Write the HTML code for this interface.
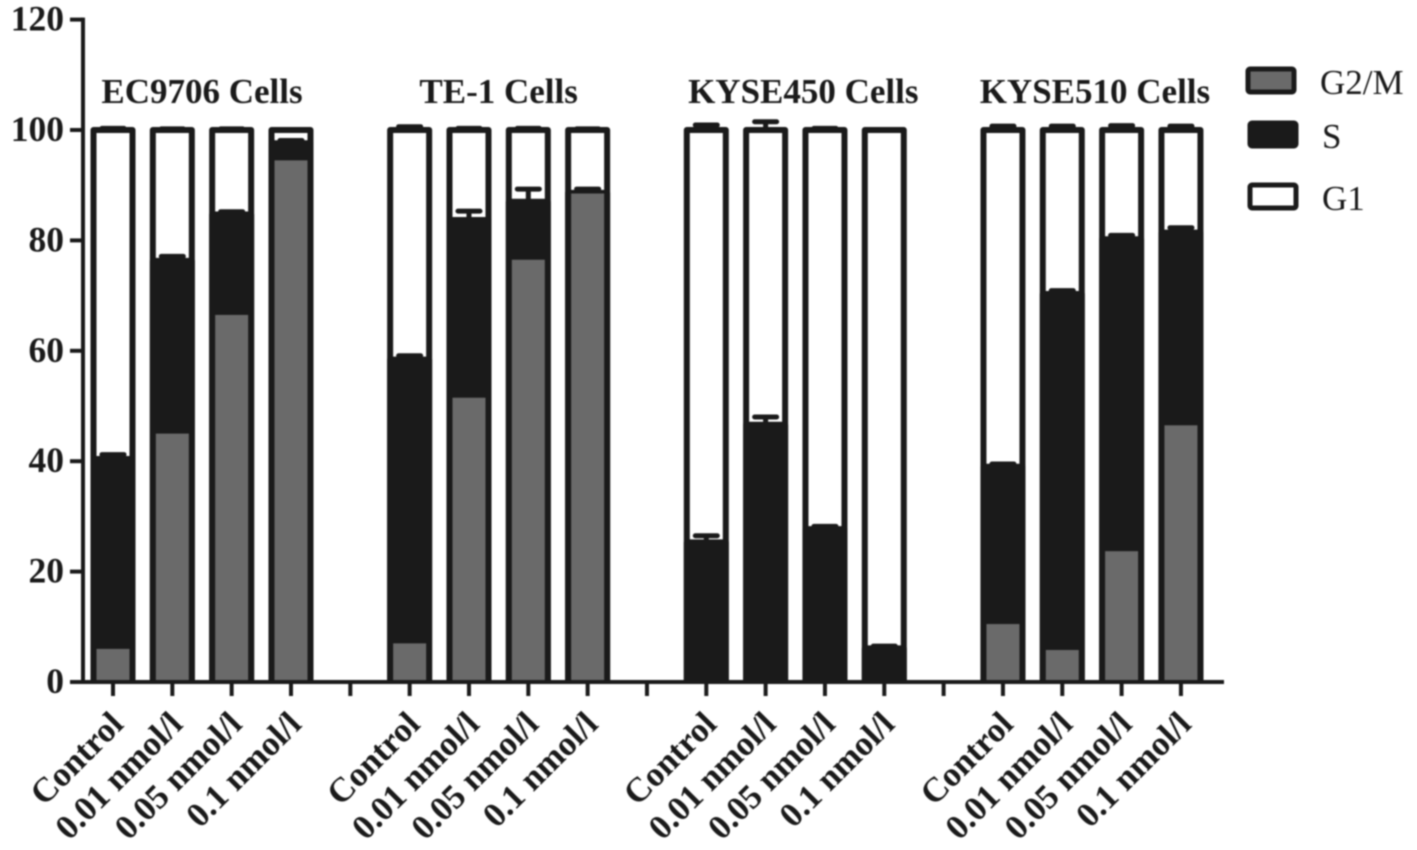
<!DOCTYPE html>
<html lang="en">
<head>
<meta charset="utf-8">
<title>Cell cycle distribution</title>
<style>
html,body{margin:0;padding:0;background:#fff;width:1417px;height:850px;overflow:hidden}
svg{display:block;filter:blur(0.7px)}
text{font-family:"Liberation Serif",serif;fill:#1a1a1a}
</style>
</head>
<body>
<svg id="chart" width="1417" height="850" viewBox="0 0 1417 850" xmlns="http://www.w3.org/2000/svg"></svg>
<script>
const panels = ["EC9706 Cells", "TE-1 Cells", "KYSE450 Cells", "KYSE510 Cells"];
const doses = ["Control", "0.01 nmol/l", "0.05 nmol/l", "0.1 nmol/l"];
const yTicks = [0, 20, 40, 60, 80, 100, 120];
const g2m = [6, 45, 66.5, 94.5, 7, 51.5, 76.5, 88.5, 0, 0, 0, 0, 10.5, 5.8, 23.7, 46.5];
const sTop = [40.4, 76.3, 84.7, 97.6, 58.4, 83.7, 87, 88.6, 25.3, 46.6, 27.7, 6.1, 39, 70.3, 80.2, 81.4];
const sErr = [0.8, 0.8, 0.5, 0.5, 0.7, 1.6, 2.3, 0.7, 1.2, 1.4, 0.5, 0.4, 0.5, 0.6, 0.7, 0.9];
const g1Top = [100, 100, 100, 100, 100, 100, 100, 100, 100, 100, 100, 100, 100, 100, 100, 100];
const g1Err = [0.3, 0.2, 0.2, 0.1, 0.6, 0.3, 0.3, 0.2, 0.9, 1.5, 0.3, 0, 0.7, 0.7, 0.8, 0.7];
const legendLabels = ["G2/M", "S", "G1"];

const NS = "http://www.w3.org/2000/svg";
const svg = document.getElementById("chart");
const INK = "#1a1a1a", GREY = "#6a6a6a";
function yScale(v) { return 682 - v * 5.52; }
function slotX(slot) { return 113 + slot * 59.33; }
function barSlot(i) { return i + Math.floor(i / 4); }
function make(tag, attrs, text) {
  const el = document.createElementNS(NS, tag);
  for (const k in attrs) el.setAttribute(k, attrs[k]);
  if (text !== undefined) el.textContent = text;
  svg.appendChild(el);
  return el;
}
const halfW = 19.5, sw = 6;

// Bars
g2m.forEach(function (_, i) {
  const cx = slotX(barSlot(i));
  const x = cx - halfW, w = halfW * 2;
  const base = yScale(0) - 2;
  const g1 = make("rect", {x: x, y: yScale(g1Top[i]), width: w, height: base - yScale(g1Top[i]), fill: "#fff", stroke: INK, "stroke-width": sw, "stroke-linejoin": "round"});
  
  
  const s = make("rect", {x: x, y: yScale(sTop[i]), width: w, height: base - yScale(sTop[i]), fill: INK, stroke: INK, "stroke-width": sw, "stroke-linejoin": "round"});
  
  
  if (g2m[i] > 0) {
    const g = make("rect", {x: x + sw / 2, y: yScale(g2m[i]), width: w - sw, height: yScale(0) - yScale(g2m[i]), fill: GREY});
    
    
  }
  [[g1Top[i], g1Err[i]], [sTop[i], sErr[i]]].forEach(function (pair) {
    if (pair[1] <= 0) return;
    const top = yScale(pair[0] + pair[1]);
    const from = yScale(pair[0]);
    const stem = make("line", {x1: cx, x2: cx, y1: from, y2: top, stroke: INK, "stroke-width": 5});
    
    
    const cap = make("line", {x1: cx - 11, x2: cx + 11, y1: top, y2: top, stroke: INK, "stroke-width": 5, "stroke-linecap": "round"});
    
    
  });
});

// Y axis
const yAxis = make("line", {x1: 83, x2: 83, y1: yScale(120) - 2, y2: yScale(0) + 2, stroke: INK, "stroke-width": 4});


yTicks.forEach(function (t) {
  const tick = make("line", {x1: 70, x2: 83, y1: yScale(t), y2: yScale(t), stroke: INK, "stroke-width": 4});
  
  
  const lab = make("text", {x: 64, y: yScale(t) + 11, "text-anchor": "end", "font-size": 35.5, "font-weight": "bold"}, String(t));
  
  
});

// X axis
const xAxis = make("line", {x1: 70, x2: 1224, y1: yScale(0), y2: yScale(0), stroke: INK, "stroke-width": 4});


for (let slot = 0; slot < 19; slot++) {
  const tick = make("line", {x1: slotX(slot), x2: slotX(slot), y1: yScale(0), y2: yScale(0) + 14, stroke: INK, "stroke-width": 4});
  
  
}
g2m.forEach(function (_, i) {
  const cx = slotX(barSlot(i));
  const lab = make("text", {x: 0, y: 0, "text-anchor": "end", "font-size": 34.5, "font-weight": "bold", transform: "translate(" + (cx + 12) + " 726) rotate(-45)"}, doses[i % 4]);
  
  
});

// Panel titles
panels.forEach(function (p, k) {
  const nudge = k === 2 ? 8 : (k === 3 ? 3 : 0);
  const cx = (slotX(k * 5) + slotX(k * 5 + 3)) / 2 + nudge;
  const t = make("text", {x: cx, y: 103, "text-anchor": "middle", "font-size": 35, "font-weight": "bold"}, p);
  
  
});

// Legend
const legendFill = [GREY, INK, "#fff"];
legendLabels.forEach(function (l, k) {
  const top = 69 + (k === 0 ? 0 : (k === 1 ? 54 : 116));
  const left = k === 0 ? 1248 : 1250;
  const sw2 = make("rect", {x: left, y: top, width: 46, height: 23, rx: 2, fill: legendFill[k], stroke: INK, "stroke-width": 5, "stroke-linejoin": "round"});
  
  
  const t = make("text", {x: left + 72, y: top + 25, "font-size": 35, fill: "#2a2a2a"}, l);
  
  
});
</script>
</body>
</html>
